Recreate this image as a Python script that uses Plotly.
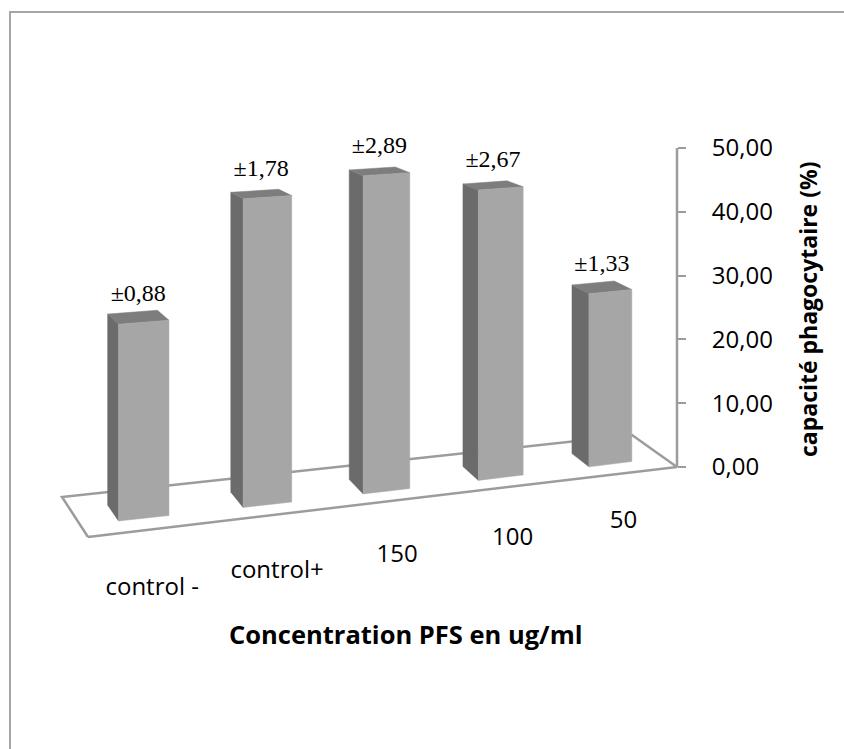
import plotly.graph_objects as go

# Phagocytic capacity per treatment group
categories = ["control -", "control+", "150", "100", "50"]
values = [28.8, 46.0, 48.3, 44.9, 27.3]
errors = ["±0,88", "±1,78", "±2,89", "±2,67", "±1,33"]
z_ticks = [0, 10, 20, 30, 40, 50]

FRONT = "#A6A6A6"
SIDE = "#6B6B6B"
TOP = "#7D7D7D"
LINE = "#9C9C9C"
FONT = "Open Sans"

W, H = 844, 749

# ---- simple perspective-like projection of the 3D column scene -------------
# t: position along the category axis (floor runs t = 0..5)
# d: depth (0 = front edge of the floor, 1 = back edge)
# v: value
PX_PER_UNIT = 6.38           # value scale at the front-right corner (axis)
ORIGIN = (88.0, 537.0)       # front-left corner of the floor, in pixels
N = len(categories)
BAR_HALF = 0.2               # half bar width, in category units
D0, D1 = 0.3, 0.7            # bar extent in depth


def front_x(t):
    return ORIGIN[0] + 129.55 * t - 2.35 * t * t


def front_y(t):
    return ORIGIN[1] - 14.0 * t


def depth_vec(t):
    return -(26.0 + 3.8 * t), 40.0 - 1.6 * t


def scale(t):
    return PX_PER_UNIT * (1.0 + 0.02 * (N - t))


def proj(t, d, v):
    dx, dy = depth_vec(t)
    xp = front_x(t) + dx * d
    yp = front_y(t) - dy * d * (1.0 - v / 80.0) - v * scale(t)
    return xp, yp


# the value axis stands at the front-right corner of the floor
AXIS_X, AXIS_Y0 = proj(N, 0, 0)


def to_data(pt):
    xp, yp = pt
    return xp, (AXIS_Y0 - yp) / PX_PER_UNIT


def poly(points):
    xs, ys = [], []
    for p in points:
        x, y = to_data(p)
        xs.append(x)
        ys.append(y)
    xs.append(xs[0])
    ys.append(ys[0])
    return xs, ys


side_x, side_y, top_x, top_y, front_xs, front_ys = [], [], [], [], [], []
for i, v in enumerate(values):
    tl, tr = i + 0.5 - BAR_HALF, i + 0.5 + BAR_HALF
    sx, sy = poly([proj(tl, D0, 0), proj(tl, D1, 0), proj(tl, D1, v), proj(tl, D0, v)])
    side_x += sx + [None]
    side_y += sy + [None]
    tx, ty = poly([proj(tl, D0, v), proj(tr, D0, v), proj(tr, D1, v), proj(tl, D1, v)])
    top_x += tx + [None]
    top_y += ty + [None]
    fx, fy = poly([proj(tl, D0, 0), proj(tr, D0, 0), proj(tr, D0, v), proj(tl, D0, v)])
    front_xs += fx + [None]
    front_ys += fy + [None]

fig = go.Figure()

# floor outline
flx, fly = poly([proj(0, 0, 0), proj(N, 0, 0), proj(N, 1, 0), proj(0, 1, 0)])
fig.add_trace(go.Scatter(x=flx, y=fly, mode="lines",
                         line=dict(color=LINE, width=2.5), hoverinfo="skip"))

for xs, ys, col in [(side_x, side_y, SIDE), (top_x, top_y, TOP), (front_xs, front_ys, FRONT)]:
    fig.add_trace(go.Scatter(x=xs, y=ys, mode="lines", fill="toself", fillcolor=col,
                             line=dict(color=col, width=0.5), hoverinfo="skip"))

# value axis line from 0 to the top tick
ax0 = to_data(proj(N, 0, z_ticks[0]))
ax1 = to_data((AXIS_X, AXIS_Y0 - z_ticks[-1] * PX_PER_UNIT))
fig.add_trace(go.Scatter(x=[ax0[0], ax1[0]], y=[ax0[1], ax1[1]], mode="lines",
                         line=dict(color=LINE, width=2.5), hoverinfo="skip"))

# error labels above each bar
lab_x, lab_y = [], []
for i, v in enumerate(values):
    x, _ = to_data(proj(i + 0.5, (D0 + D1) / 2, v))
    _, y = to_data(proj(i + 0.5, D0, v))
    lab_x.append(x)
    lab_y.append(y + 27.0 / PX_PER_UNIT)
fig.add_trace(go.Scatter(x=lab_x, y=lab_y, mode="text", text=errors,
                         textposition="middle center",
                         textfont=dict(family="Liberation Serif", size=24, color="black"),
                         hoverinfo="skip"))

# category labels below the front edge of the floor
cat_x, cat_y = [], []
for i in range(N):
    x, y = to_data(proj(i + 0.5, 0, 0))
    cat_x.append(x)
    cat_y.append(y - (48.0 + 2.75 * (N - 1 - i)) / PX_PER_UNIT)
fig.add_trace(go.Scatter(x=cat_x, y=cat_y, mode="text", text=categories,
                         textposition="middle center",
                         textfont=dict(family=FONT, size=24, color="black"),
                         hoverinfo="skip"))

fig.update_layout(
    width=W, height=H,
    margin=dict(l=0, r=0, t=0, b=0),
    paper_bgcolor="white", plot_bgcolor="rgba(0,0,0,0)",
    separators=", ",
    showlegend=False,
    xaxis=dict(range=[0, W], visible=False, fixedrange=True),
    yaxis=dict(
        range=[(AXIS_Y0 - H) / PX_PER_UNIT, AXIS_Y0 / PX_PER_UNIT],
        anchor="free", position=AXIS_X / W, side="right",
        tickvals=z_ticks, tickformat=".2f",
        showgrid=False, zeroline=False, showline=False,
        ticks="outside", ticklen=8, tickwidth=1.5, tickcolor=LINE,
        ticklabelstandoff=21,
        tickfont=dict(family=FONT, size=24, color="black"),
        fixedrange=True,
    ),
    annotations=[
        dict(text="<b>Concentration PFS en ug/ml</b>", x=405 / W, y=1 - 634 / H,
             xref="paper", yref="paper", xanchor="center", yanchor="middle",
             showarrow=False, font=dict(family=FONT, size=25.5, color="black")),
        dict(text="<b>capacité phagocytaire (%)</b>", x=808 / W, y=1 - 310 / H,
             xref="paper", yref="paper", xanchor="center", yanchor="middle",
             showarrow=False, textangle=-90,
             font=dict(family=FONT, size=23, color="black")),
    ],
    shapes=[
        dict(type="rect", xref="paper", yref="paper",
             x0=10 / W, x1=1.02, y0=-0.02, y1=1 - 12 / H,
             line=dict(color="#A6A6A6", width=2)),
    ],
)

fig.write_html("out.html")
